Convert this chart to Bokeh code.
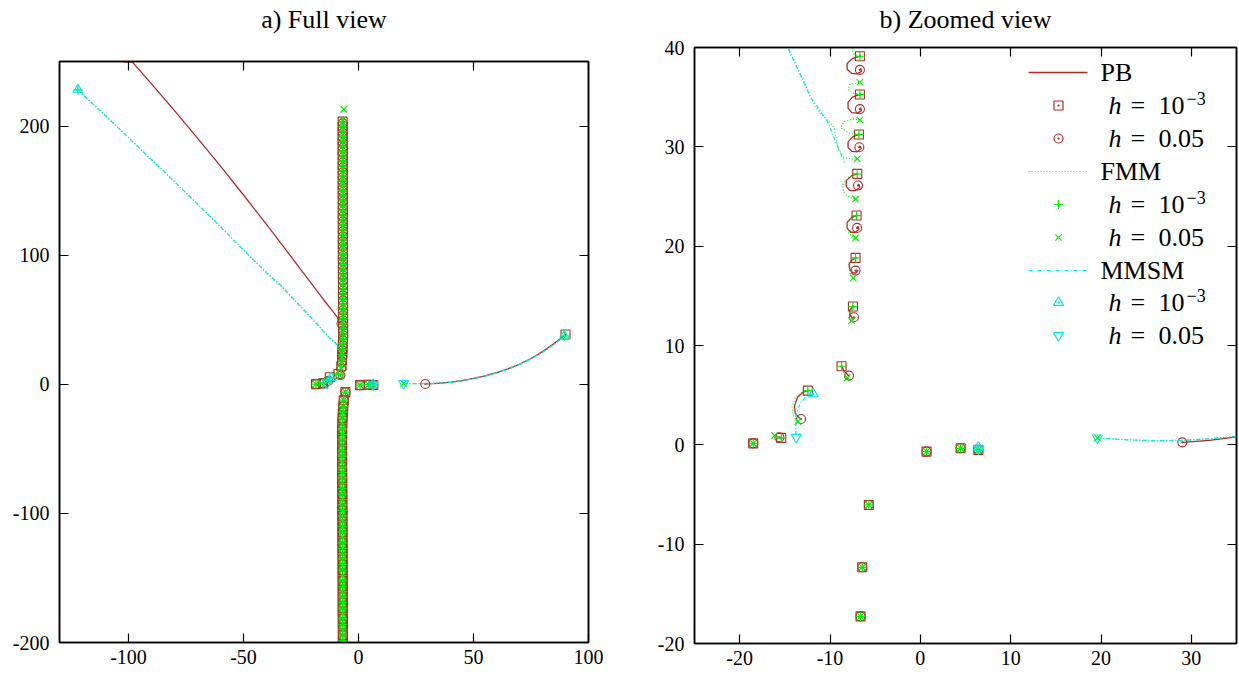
from bokeh.plotting import figure
from bokeh.layouts import row, column
from bokeh.models import Range1d, FixedTicker, LinearAxis, CustomJSTickFormatter
from bokeh.core.properties import value
from bokeh.embed import file_html
from bokeh.resources import INLINE

# ------------------------------------------------------------------ data
# Upper column, visible in the zoomed view (y <= 40)
vis_sq_x = [-8.72, -7.46, -7.17, -7.06, -6.98, -6.80, -6.69, -6.69]
vis_sq_y = [7.91, 13.92, 18.82, 23.08, 27.28, 31.24, 35.27, 39.12]
vis_ci_x = [-7.90, -7.35, -7.17, -7.00, -6.90, -6.75, -6.69, -6.69]
vis_ci_y = [6.97, 12.84, 17.54, 21.84, 26.10, 29.96, 33.80, 37.75]
vis_cr_x = [-8.09, -7.60, -7.43, -7.17, -7.17, -6.98, -6.69, -6.69, -6.80]
vis_cr_y = [6.74, 12.50, 16.80, 20.84, 24.76, 28.80, 32.70, 36.50, 40.60]

# Upper column above y = 40 (shared abscissae)
high_x = [-6.70, -6.70, -6.71, -6.72, -6.72, -6.73, -6.74, -6.74, -6.75, -6.75,
          -6.76, -6.76, -6.77, -6.77, -6.78, -6.78, -6.79, -6.79, -6.80, -6.80,
          -6.80, -6.81, -6.81, -6.81, -6.82, -6.82, -6.82, -6.83, -6.83, -6.83,
          -6.84, -6.84, -6.84, -6.85, -6.85, -6.85, -6.86, -6.86, -6.86, -6.87,
          -6.87, -6.87, -6.88]
high_sq_y = [43.0, 46.9, 50.8, 54.6, 58.5, 62.3, 66.1, 70.0, 73.8, 77.6,
             81.5, 85.3, 89.1, 92.9, 96.8, 100.6, 104.4, 108.2, 112.0, 115.9,
             119.7, 123.5, 127.3, 131.1, 134.9, 138.8, 142.6, 146.4, 150.2, 154.0,
             157.8, 161.6, 165.4, 169.2, 173.0, 176.8, 180.6, 184.4, 188.2, 192.0,
             195.8, 199.6, 203.4]
high_ci_y = [41.7, 45.6, 49.4, 53.3, 57.1, 61.0, 64.8, 68.7, 72.4, 76.3,
             80.1, 84.0, 87.8, 91.6, 95.4, 99.3, 103.1, 106.9, 110.7, 114.5,
             118.4, 122.2, 126.0, 129.8, 133.6, 137.4, 141.3, 145.1, 148.9, 152.7,
             156.5, 160.3, 164.1, 167.9, 171.7, 175.5, 179.3, 183.1, 186.9, 190.7,
             194.5, 198.3, 202.1]
high_cr_y = [44.4, 48.3, 52.2, 56.0, 59.9, 63.7, 67.5, 71.4, 75.2, 79.0,
             82.9, 86.7, 90.5, 94.3, 98.2, 102.0, 105.8, 109.6, 113.4, 117.3,
             121.1, 124.9, 128.7, 132.5, 136.3, 140.2, 144.0, 147.8, 151.6, 155.4,
             159.2, 163.0, 166.8, 170.6, 174.4, 178.2, 182.0, 185.8, 189.6, 193.4,
             197.2, 201.0, 204.8]

# Lower column (all methods / both steps coincide)
low_x = [-5.70, -6.43, -6.62, -6.80, -6.95, -7.05, -7.10, -7.12, -7.14, -7.15,
         -7.15, -7.15, -7.15, -7.14, -7.12, -7.10, -7.08, -7.06, -7.05, -7.04,
         -7.03, -7.02, -7.00, -7.00, -6.98, -6.98, -6.95, -6.95, -6.95, -6.92,
         -6.92, -6.90, -6.90, -6.88, -6.88, -6.86, -6.86, -6.85, -6.85, -6.84,
         -6.84, -6.82, -6.82, -6.80, -6.80, -6.80, -6.80]
low_y = [-6.05, -12.33, -17.27, -21.7, -26.1, -30.4, -34.7, -38.9, -43.1, -47.3,
         -51.5, -55.7, -59.9, -64.1, -68.3, -72.5, -76.7, -80.9, -85.1, -89.3,
         -93.5, -97.7, -101.9, -106.1, -110.3, -114.5, -118.7, -122.9, -127.1, -131.3,
         -135.5, -139.7, -143.9, -148.1, -152.3, -156.5, -160.7, -164.9, -169.1, -173.3,
         -177.5, -181.7, -185.9, -190.1, -194.3, -198.5, -202.7]

# Remaining roots
pb1_pts_x = [-100.0, -18.5, -15.4, -12.45, 0.69, 4.46, 6.42, 90.0]
pb1_pts_y = [253.0, 0.15, 0.70, 5.46, -0.68, -0.35, -0.51, 38.5]
pb05_pts_x = [-7.4, -18.5, -15.6, -13.2, 0.69, 4.46, 6.42, 29.0]
pb05_pts_y = [47.0, 0.15, 0.75, 2.6, -0.68, -0.35, -0.51, 0.25]
fmm1_pts_x = [-122.0, -18.5, -15.4, -12.45, 0.69, 4.46, 6.42, 89.5]
fmm1_pts_y = [228.0, 0.15, 0.70, 5.46, -0.68, -0.35, -0.51, 37.3]
fmm05_pts_x = [-18.5, -16.14, -13.56, 0.69, 4.46, 6.42, 19.6, -6.4]
fmm05_pts_y = [0.15, 0.93, 2.34, -0.68, -0.35, -0.51, 0.70, 213.0]
mmsm1_x = [-122.0, -11.86, 6.42, 89.5]
mmsm1_y = [228.0, 5.13, -0.25, 37.3]
mmsm05_x = [-13.74, 6.42, 19.6]
mmsm05_y = [0.76, -0.40, 0.70]

# Trajectories
pb_paths_x = [
    [-100, -90, -80, -70, -60, -50, -40, -30, -21.6, -15, -11, -9.3, -8.5, -7.4],
    [29.0, 32, 35, 40, 45, 50, 55, 60, 65, 70, 75, 80, 85, 90],
    [-6.69, -7.5, -8.1, -8.1, -7.6, -7.0, -6.5, -6.6, -6.69],
    [-6.69, -7.5, -8.0, -8.0, -7.6, -7.0, -6.5, -6.6, -6.69],
    [-6.80, -7.5, -8.0, -8.0, -7.6, -7.0, -6.55, -6.65, -6.75],
    [-6.98, -7.6, -8.2, -8.2, -7.8, -7.2, -6.7, -6.8, -6.90],
    [-7.06, -7.6, -8.1, -8.1, -7.7, -7.2, -6.8, -6.9, -7.00],
    [-7.17, -7.6, -7.9, -7.8, -7.5, -7.1, -6.9, -7.17],
    [-7.46, -7.8, -7.8, -7.5, -7.2, -7.35],
    [-8.72, -8.4, -8.0, -7.9],
    [-12.45, -13.0, -13.6, -13.93, -13.85, -13.5, -13.2],
]
pb_paths_y = [
    [253, 232.7, 212.0, 190.7, 168.9, 146.6, 123.8, 100.5, 80.6, 65.1, 56.1, 52.2, 48.3, 47.0],
    [0.25, 0.45, 0.8, 1.6, 2.9, 4.5, 6.5, 9.0, 12.0, 15.5, 20.0, 25.3, 31.5, 38.5],
    [39.12, 38.9, 38.4, 37.8, 37.4, 37.35, 37.6, 37.9, 37.75],
    [35.27, 35.0, 34.5, 33.9, 33.45, 33.4, 33.65, 33.95, 33.80],
    [31.24, 31.0, 30.5, 29.95, 29.55, 29.5, 29.8, 30.1, 29.96],
    [27.28, 27.1, 26.6, 26.0, 25.6, 25.6, 25.9, 26.25, 26.10],
    [23.08, 22.9, 22.4, 21.8, 21.4, 21.4, 21.7, 22.0, 21.84],
    [18.82, 18.6, 18.2, 17.7, 17.3, 17.3, 17.6, 17.54],
    [13.92, 13.6, 13.1, 12.7, 12.8, 12.84],
    [7.91, 7.4, 7.0, 6.97],
    [5.46, 5.3, 4.8, 3.9, 3.2, 2.8, 2.6],
]
fmm_paths_x = [
    [-122, -110, -100, -90, -80, -70, -60, -50, -40, -33.9, -25, -18, -14.56, -13.0,
     -11.6, -10.4, -9.57, -9.3, -9.2, -8.47, -7.6, -6.98],
    [19.6, 23, 26, 29, 32, 35, 40, 45, 50, 55, 60, 65, 70, 75, 80, 85, 89.5],
    [-6.69, -7.3, -7.6, -7.3, -6.8],
    [-6.69, -7.5, -8.0, -7.8, -6.69],
    [-6.80, -7.9, -8.8, -8.5, -7.5, -6.69],
    [-6.98, -7.9, -8.6, -8.5, -7.8, -7.17],
    [-7.06, -7.7, -8.1, -8.0, -7.6, -7.17],
    [-7.17, -7.7, -7.9, -7.8, -7.43],
    [-7.46, -7.7, -7.6, -7.6],
    [-8.72, -8.5, -8.09],
    [-12.45, -13.3, -13.9, -14.2, -14.1, -13.56],
    [-15.4, -15.8, -16.14],
]
fmm_paths_y = [
    [228, 208, 191, 174, 157, 139.5, 122, 104, 86.5, 76.7, 60, 46.5, 39.77, 36.8,
     34.0, 32.8, 31.97, 30.8, 29.96, 28.95, 28.75, 28.8],
    [0.7, 0.5, 0.42, 0.45, 0.6, 0.85, 1.5, 2.7, 4.3, 6.3, 8.8, 11.8, 15.3, 19.7, 24.8, 30.8, 37.3],
    [39.12, 39.3, 39.8, 40.4, 40.6],
    [35.27, 35.4, 35.8, 36.3, 36.5],
    [31.24, 31.4, 31.9, 32.5, 32.8, 32.7],
    [27.28, 27.0, 26.2, 25.4, 24.9, 24.76],
    [23.08, 22.8, 22.2, 21.5, 21.0, 20.84],
    [18.82, 18.5, 17.9, 17.3, 16.8],
    [13.92, 13.5, 12.9, 12.5],
    [7.91, 7.3, 6.74],
    [5.46, 5.2, 4.6, 3.8, 3.0, 2.34],
    [0.70, 0.85, 0.93],
]
mmsm_paths_x = [
    [-122, -110, -100, -90, -80, -70, -60, -50, -40, -33.9, -25, -18, -14.56,
     -12.15, -10.3, -9.57, -8.39],
    [19.6, 23, 26, 29, 32, 35, 40, 45, 50, 55, 60, 65, 70, 75, 80, 85, 89.5],
    [-11.86, -12.6, -13.3, -13.75, -13.8, -13.74],
]
mmsm_paths_y = [
    [228, 208, 191, 174, 157, 139.5, 122, 104, 86.5, 76.7, 60, 46.5, 39.77,
     35.0, 32.6, 30.97, 28.45],
    [0.7, 0.5, 0.42, 0.45, 0.6, 0.85, 1.5, 2.7, 4.3, 6.3, 8.8, 11.8, 15.3, 19.7, 24.8, 30.8, 37.3],
    [5.13, 4.9, 4.2, 3.1, 1.8, 0.76],
]

titles = ["a) Full view", "b) Zoomed view"]
left_xticks = [-100, -50, 0, 50, 100]
left_yticks = [-200, -100, 0, 100, 200]
right_xticks = [-20, -10, 0, 10, 20, 30]
right_yticks = [-20, -10, 0, 10, 20, 30, 40]
legend_heads = ["PB", "FMM", "MMSM"]
legend_steps = ["10", "0.05"]

# ------------------------------------------------------------------ style
FONT = "Liberation Serif"
PB_C = "#b02a2a"
FMM_C = "#00ee00"
MM_C = "#00e8f0"

pb1_x = pb1_pts_x + vis_sq_x + high_x + low_x
pb1_y = pb1_pts_y + vis_sq_y + high_sq_y + low_y
pb05_x = pb05_pts_x + vis_ci_x + high_x + low_x
pb05_y = pb05_pts_y + vis_ci_y + high_ci_y + low_y
fmm1_x = fmm1_pts_x + vis_sq_x + high_x + low_x
fmm1_y = fmm1_pts_y + vis_sq_y + high_sq_y + low_y
fmm05_x = fmm05_pts_x + vis_cr_x + high_x + low_x
fmm05_y = fmm05_pts_y + vis_cr_y + high_cr_y + low_y

INT_FMT = "return tick.toFixed(0)"
EMPTY_FMT = "return ''"


def make_fig(xr, yr, fw, fh, bl, br, bt, bb, xt, yt, title, title_standoff):
    p = figure(x_range=Range1d(*xr), y_range=Range1d(*yr),
               frame_width=fw, frame_height=fh,
               min_border_left=bl, min_border_right=br,
               min_border_top=bt, min_border_bottom=bb,
               output_backend="svg", toolbar_location=None,
               background_fill_color="white", border_fill_color="white")
    p.xgrid.visible = False
    p.ygrid.visible = False
    p.outline_line_color = "black"
    p.outline_line_width = 1.5
    bottom = p.xaxis[0]
    left = p.yaxis[0]
    bottom.ticker = FixedTicker(ticks=xt)
    left.ticker = FixedTicker(ticks=yt)
    bottom.formatter = CustomJSTickFormatter(code=INT_FMT)
    left.formatter = CustomJSTickFormatter(code=INT_FMT)
    top = LinearAxis(ticker=FixedTicker(ticks=xt),
                     formatter=CustomJSTickFormatter(code=EMPTY_FMT))
    right = LinearAxis(ticker=FixedTicker(ticks=yt),
                       formatter=CustomJSTickFormatter(code=EMPTY_FMT))
    p.add_layout(top, "above")
    p.add_layout(right, "right")
    for ax in [bottom, left, top, right]:
        ax.axis_line_color = "black"
        ax.axis_line_width = 1.5
        ax.major_tick_line_color = "black"
        ax.major_tick_line_width = 1.2
        ax.major_tick_in = 9
        ax.major_tick_out = 0
        ax.minor_tick_line_color = None
        ax.major_label_text_font = FONT
        ax.major_label_text_color = "black"
    for ax in [bottom, left]:
        ax.major_label_text_font_size = "20px"
    bottom.major_label_standoff = 7
    left.major_label_standoff = 10
    for ax in [top, right]:
        ax.major_label_text_font_size = "1px"
        ax.major_label_standoff = 0
    # panel title drawn as the label of the top (mirror) axis
    top.axis_label = title
    top.axis_label_text_font = FONT
    top.axis_label_text_font_size = "26px"
    top.axis_label_text_font_style = "normal"
    top.axis_label_text_color = "black"
    top.axis_label_standoff = title_standoff
    return p


def draw_data(p):
    p.multi_line(pb_paths_x, pb_paths_y, line_color=PB_C, line_width=1.3)
    p.scatter(pb1_x, pb1_y, marker="square_dot", size=9, line_color=PB_C,
              fill_color=None, line_width=1.1)
    p.scatter(pb05_x, pb05_y, marker="circle_dot", size=9, line_color=PB_C,
              fill_color=None, line_width=1.1)
    p.multi_line(fmm_paths_x, fmm_paths_y, line_color=FMM_C, line_width=1.2,
                 line_dash="1 2")
    p.scatter(fmm1_x, fmm1_y, marker="cross", size=9, line_color=FMM_C, line_width=1.2)
    p.scatter(fmm05_x, fmm05_y, marker="x", size=9, line_color=FMM_C, line_width=1.2)
    p.multi_line(mmsm_paths_x, mmsm_paths_y, line_color=MM_C, line_width=1.2,
                 line_dash="4 2 1 2")
    p.scatter(mmsm1_x, mmsm1_y, marker="triangle_dot", size=10, line_color=MM_C,
              fill_color=None, line_width=1.1)
    p.scatter(mmsm05_x, mmsm05_y, marker="inverted_triangle", size=10, line_color=MM_C,
              fill_color=None, line_width=1.1)


# ------------------------------------------------------------------ left panel
L_X, L_Y = (-130, 100), (-200, 250)
p1 = make_fig(L_X, L_Y, 529, 581, 59, 42, 61, 37, left_xticks, left_yticks, titles[0], 28)
draw_data(p1)

# ------------------------------------------------------------------ right panel
R_X, R_Y = (-25, 35), (-20, 40)
R_FL, R_FT, R_FW, R_FH = 694, 47, 542, 596
p2 = make_fig(R_X, R_Y, R_FW, R_FH, 64, 3, R_FT, 36, right_xticks, right_yticks, titles[1], 14)
draw_data(p2)


def fx(px):
    return R_X[0] + (px - R_FL) * (R_X[1] - R_X[0]) / R_FW


def fy(py):
    return R_Y[1] - (py - R_FT) * (R_Y[1] - R_Y[0]) / R_FH


rows_py = [72, 105, 138, 171, 204, 237, 270, 302, 335]
line_styles = [(PB_C, None, 1.3), (FMM_C, "1 2", 1.2), (MM_C, "4 2 1 2", 1.2)]
marker_styles = [
    ("square_dot", PB_C, 9), ("circle_dot", PB_C, 9),
    ("cross", FMM_C, 9), ("x", FMM_C, 9),
    ("triangle_dot", MM_C, 10), ("inverted_triangle", MM_C, 10),
]
for k in range(3):
    head_py = rows_py[3 * k]
    col, dash, lw = line_styles[k]
    kw = dict(line_color=col, line_width=lw)
    if dash:
        kw["line_dash"] = dash
    p2.line([fx(1028), fx(1087)], [fy(head_py), fy(head_py)], **kw)
    p2.text([fx(1100)], [fy(head_py)], text=[legend_heads[k]], text_font=value(FONT),
            text_font_size="26px", text_baseline="middle", text_color="black")
    for j in range(2):
        py = rows_py[3 * k + 1 + j]
        mk, mc, ms = marker_styles[2 * k + j]
        p2.scatter([fx(1058)], [fy(py)], marker=mk, size=ms, line_color=mc,
                   fill_color=None, line_width=1.2)
        p2.text([fx(1108)], [fy(py)], text=["h"], text_font=value(FONT),
                text_font_style="italic", text_font_size="26px",
                text_baseline="middle", text_color="black")
        p2.text([fx(1130)], [fy(py)], text=["="], text_font=value(FONT),
                text_font_size="26px", text_baseline="middle", text_color="black")
        p2.text([fx(1158)], [fy(py)], text=[legend_steps[j]], text_font=value(FONT),
                text_font_size="26px", text_baseline="middle", text_color="black")
        if j == 0:
            p2.text([fx(1186)], [fy(py - 7)], text=["\u22123"], text_font=value(FONT),
                    text_font_size="18px", text_baseline="middle", text_color="black")

layout = row(column(p1), column(p2))
open("out.html", "w").write(file_html(layout, INLINE))
